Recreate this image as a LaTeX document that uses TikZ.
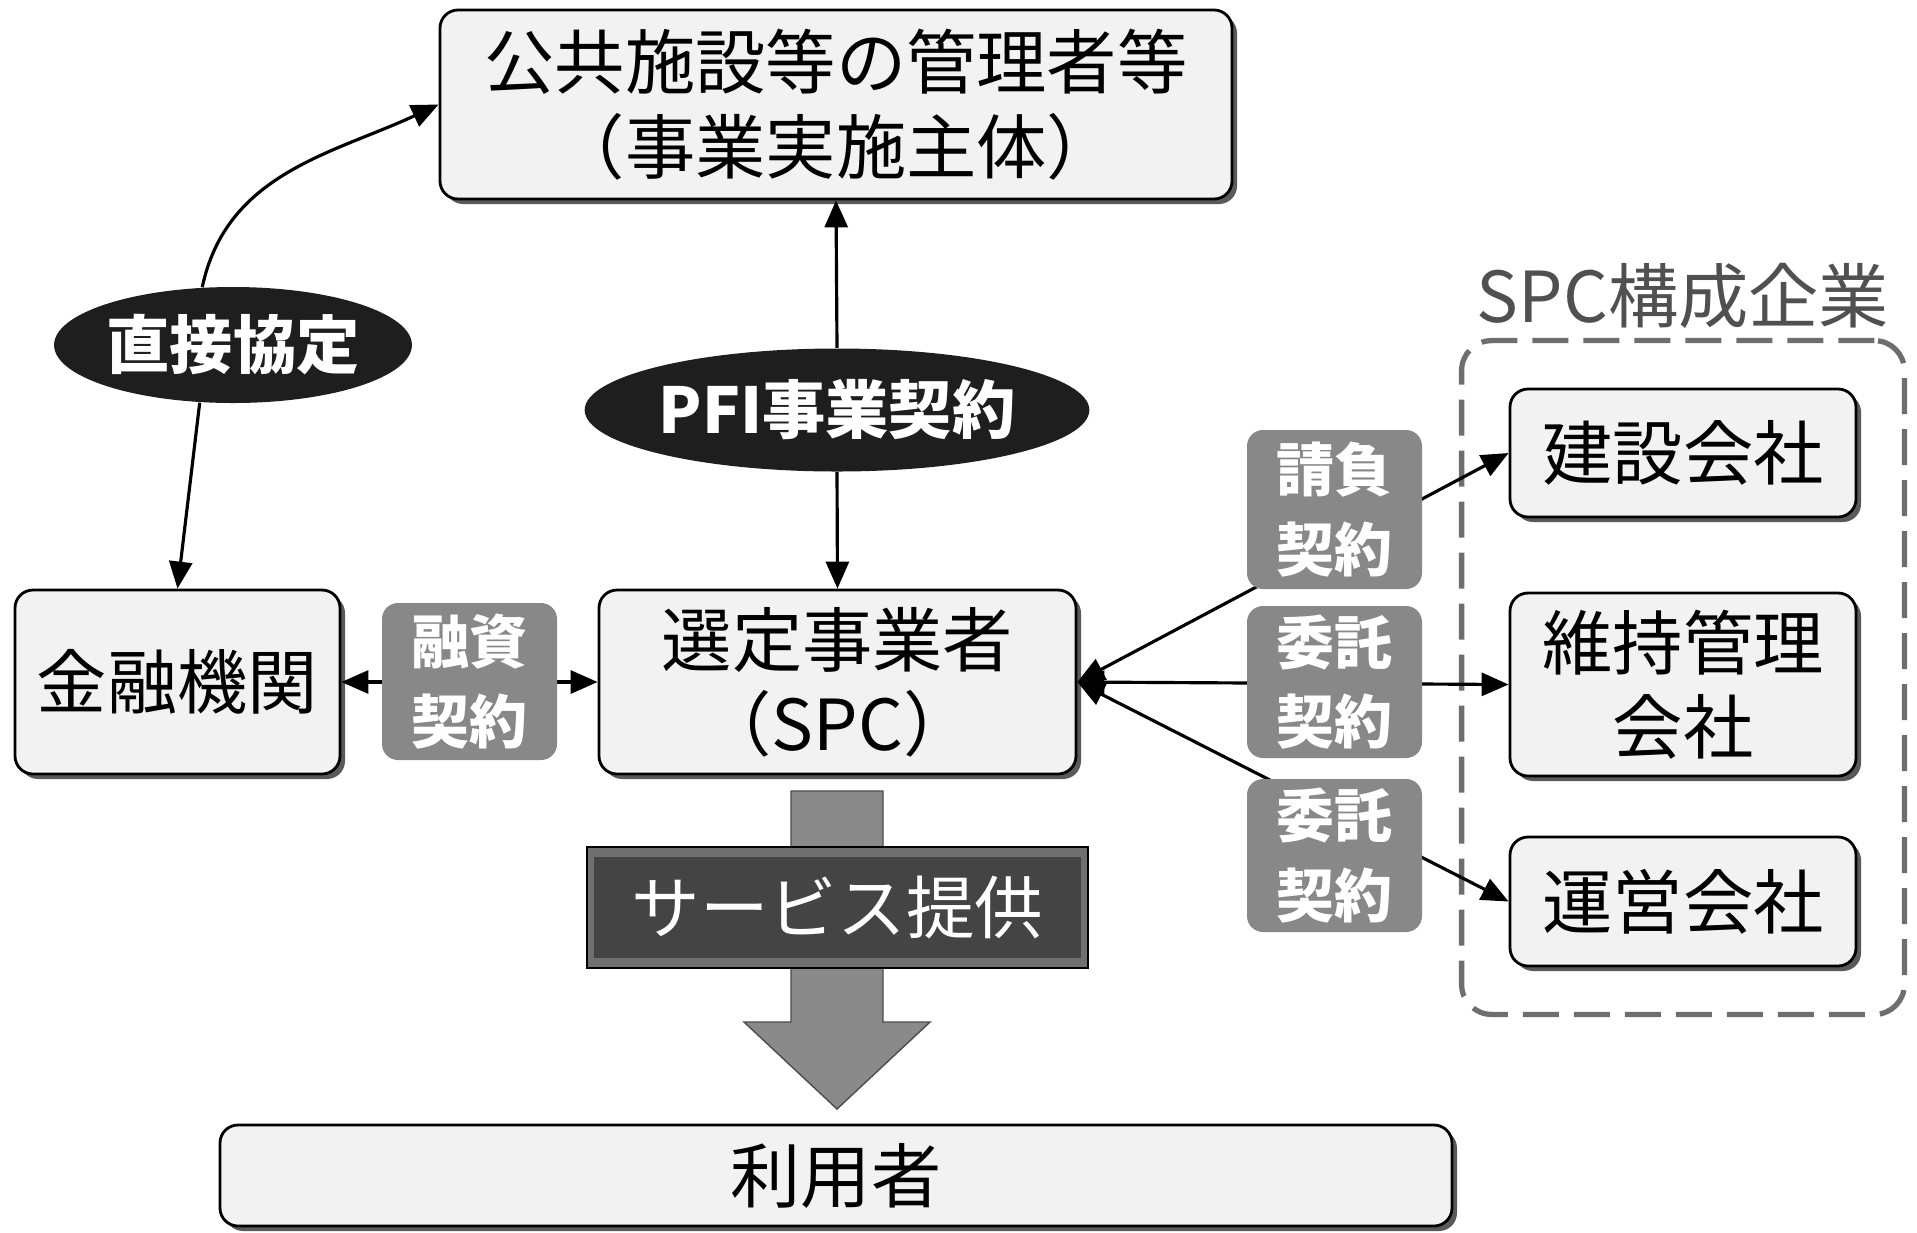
\documentclass[tikz,border=0pt]{standalone}
\usepackage{fontspec}
\setmainfont{Noto Sans CJK JP}
\usepackage{tikz}
\usetikzlibrary{arrows.meta,positioning,shapes.geometric,shadows,fit}
\definecolor{boxfill}{HTML}{F2F2F2}
\definecolor{shade}{HTML}{5A5A5A}
\definecolor{ovalfill}{HTML}{1E1E1E}
\definecolor{tagfill}{HTML}{888888}
\definecolor{grpline}{HTML}{6E6E6E}
\definecolor{grptext}{HTML}{505050}
\definecolor{svcouter}{HTML}{707070}
\definecolor{svcinner}{HTML}{444444}
\definecolor{flow}{HTML}{8A8A8A}
\newcommand{\boxtxt}{\fontsize{20pt}{24pt}\selectfont}
\newcommand{\ovaltxt}{\bfseries\fontsize{18pt}{22pt}\selectfont}
\newcommand{\tagtxt}{\bfseries\fontsize{16.5pt}{22.5pt}\selectfont}
\newcommand{\svctxt}{\fontsize{19.5pt}{23pt}\selectfont}
\tikzset{
  box/.style={draw=black, line width=0.8pt, rounded corners=0.18cm, fill=boxfill, align=center, font=\boxtxt, inner sep=0pt,
    drop shadow={shadow xshift=0.05cm, shadow yshift=-0.05cm, fill=shade, opacity=1}},
  oval/.style={ellipse, fill=ovalfill, text=white, font=\ovaltxt, inner sep=0pt},
  tag/.style={rounded corners=0.16cm, fill=tagfill, text=white, font=\tagtxt, align=center, inner sep=0pt, minimum width=1.75cm},
  grp/.style={draw=grpline, line width=1.5pt, dash pattern=on 0.36cm off 0.15cm, rounded corners=0.3cm, inner sep=0.47cm},
  grplab/.style={text=grptext, font=\boxtxt, inner sep=0pt},
  arr/.style={line width=0.9pt, -{Triangle[length=0.27cm,width=0.23cm]}},
  twoway/.style={line width=0.9pt, {Triangle[length=0.27cm,width=0.23cm]}-{Triangle[length=0.27cm,width=0.23cm]}},
  svcbox/.style={draw=black, line width=0.6pt, fill=svcouter, text=white, font=\svctxt, minimum width=5.01cm, minimum height=1.21cm,
    path picture={\fill[svcinner] ([shift={(0.07cm,-0.1cm)}]path picture bounding box.north west) rectangle ([shift={(-0.07cm,0.1cm)}]path picture bounding box.south east);}},
}
\begin{document}
\begin{tikzpicture}
\useasboundingbox (0,0) rectangle (19.17,-12.32);

% top row
\node[box, minimum width=7.92cm, minimum height=1.89cm] (owner) at (8.36,-1.045) {公共施設等の管理者等\\（事業実施主体）};
\node[oval, minimum width=3.45cm, minimum height=1.16cm] (direct) at (2.33,-3.45) {直接協定};
\node[oval, minimum width=4.53cm, minimum height=1.23cm] (pfi) at (8.37,-4.10) {PFI事業契約};

% middle row
\node[box, minimum width=3.25cm, minimum height=1.84cm] (bank) at (1.775,-6.82) {金融機関};
\node[box, minimum width=4.77cm, minimum height=1.84cm] (spc) at (8.375,-6.82) {選定事業者\\（SPC）};

% SPC members
\node[box, minimum width=3.46cm, minimum height=1.28cm] (build) at (16.83,-4.53) {建設会社};
\node[box, minimum width=3.46cm, minimum height=1.83cm] (maint) at (16.83,-6.845) {維持管理\\会社};
\node[box, minimum width=3.46cm, minimum height=1.29cm] (oper) at (16.83,-9.015) {運営会社};
\node[grp, fit=(build)(maint)(oper)] (members) {};
\node[grplab, above=0.09cm of members] (memlab) {SPC構成企業};

% users
\node[box, minimum width=12.32cm, minimum height=1.01cm] (user) at (8.36,-11.755) {利用者};

% contracts
\draw[arr] (direct.118) to[out=78, in=205] (owner.west);
\draw[arr] (direct.240) -- (bank.north);
\draw[arr] (pfi.north) -- (owner.south);
\draw[arr] (pfi.south) -- (spc.north);
\draw[twoway] (bank.east) -- (spc.west);
\draw[twoway] (spc.east) -- (build.west);
\draw[twoway] (spc.east) -- (maint.west);
\draw[twoway] (spc.east) -- (oper.west);

\node[tag, minimum height=1.57cm] (loan) at (4.695,-6.815) {融資\\契約};
\node[tag, minimum height=1.59cm] (work) at (13.345,-5.095) {請負\\契約};
\node[tag, minimum height=1.52cm] (care) at (13.345,-6.82) {委託\\契約};
\node[tag, minimum height=1.53cm] (run) at (13.345,-8.555) {委託\\契約};

% service flow
\filldraw[fill=flow, draw=black!70, line width=0.4pt] (7.91,-7.91) -- (8.83,-7.91) -- (8.83,-10.22) -- (9.30,-10.22)
  -- (8.37,-11.09) -- (7.44,-10.22) -- (7.91,-10.22) -- cycle;
\node[svcbox] (svc) at (8.375,-9.075) {サービス提供};
\end{tikzpicture}
\end{document}
